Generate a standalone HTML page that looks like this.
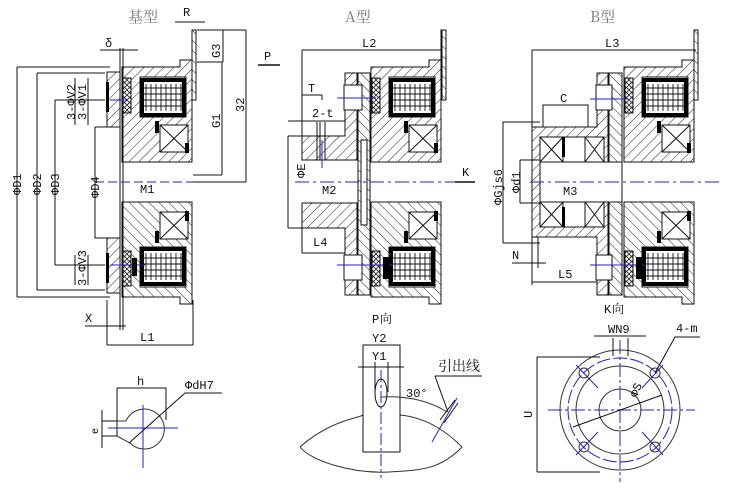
<!DOCTYPE html>
<html><head><meta charset="utf-8"><style>
html,body{margin:0;padding:0;background:#fff}
svg{display:block}
text{font-family:"Liberation Mono","WenQuanYi Zen Hei",monospace;font-size:12px;fill:#111}
.cj{font-family:"Noto Serif CJK SC","WenQuanYi Zen Hei",serif;fill:#777;font-size:15px}
</style></head><body>
<svg width="736" height="488" viewBox="0 0 736 488" xmlns="http://www.w3.org/2000/svg">
<defs>
<pattern id="h" patternUnits="userSpaceOnUse" width="7" height="7" patternTransform="rotate(45)">
<rect width="7" height="7" fill="#fff"/><line x1="0" y1="0" x2="0" y2="7" stroke="#222" stroke-width="1"/></pattern>
<pattern id="h2" patternUnits="userSpaceOnUse" width="7" height="7" patternTransform="rotate(-45)">
<rect width="7" height="7" fill="#fff"/><line x1="0" y1="0" x2="0" y2="7" stroke="#222" stroke-width="1"/></pattern>
<pattern id="x" patternUnits="userSpaceOnUse" width="5" height="5">
<rect width="5" height="5" fill="#fff"/><path d="M0 0L5 5M5 0L0 5" stroke="#222" stroke-width="0.8"/></pattern>
<g id="half">
 <!-- body top half, origin at body left face, y absolute -->
 <path d="M0 67 H58 V60 H70 V162 H0 Z" fill="url(#h)" stroke="#111"/>
 <rect x="18" y="77" width="46" height="40" fill="#fff" stroke="#111"/>
 <rect x="20" y="80" width="42" height="35" fill="#fff" stroke="#000" stroke-width="4"/>
 <path d="M24 84V111M29 84V111M34 84V111M39 84V111M44 84V111M49 84V111M54 84V111M59 84V111M22 88H60M22 94H60M22 100H60M22 106H60" stroke="#111" stroke-width="0.9"/>
 <rect x="38" y="125" width="28" height="27" fill="#fff" stroke="#111"/>
 <path d="M38 125L66 152M66 125L38 152" stroke="#111"/>
 <rect x="33" y="121" width="4" height="12" fill="#000"/>
 <rect x="63" y="143" width="4" height="10" fill="#000"/>
 <rect x="1" y="78" width="8" height="35" fill="url(#x)" stroke="#111"/>
</g>
<g id="body">
 <use href="#half"/>
 <use href="#half" transform="translate(0,364) scale(1,-1)"/>
 <line x1="0" y1="162" x2="70" y2="162" stroke="#111"/>
 <line x1="0" y1="202" x2="70" y2="202" stroke="#111"/>
 <rect x="70" y="30" width="4" height="70" fill="url(#h2)" stroke="#111"/>
</g>
</defs>

<!-- ===== BASE VIEW ===== -->
<text class="cj" x="128" y="22">基型</text>
<text x="183" y="16">R</text>
<line x1="175" y1="22" x2="205" y2="22" stroke="#111"/>
<use href="#body" x="122"/>
<rect x="107" y="72" width="13" height="55" fill="url(#h)" stroke="#111"/>
<rect x="107" y="238" width="13" height="55" fill="url(#h)" stroke="#111"/>
<path d="M120 48V330M123 48V330" stroke="#111"/>
<rect x="106" y="82" width="3" height="30" fill="#000"/>
<rect x="106" y="253" width="3" height="30" fill="#000"/>
<text x="105" y="47">δ</text>
<line x1="100" y1="50" x2="138" y2="50" stroke="#111"/>
<line x1="110" y1="100" x2="128" y2="100" stroke="#22c"/>
<line x1="110" y1="265" x2="145" y2="265" stroke="#22c"/>
<rect x="132" y="258" width="5" height="18" fill="#000"/>
<line x1="95" y1="182" x2="195" y2="182" stroke="#22c" stroke-dasharray="9,4"/>
<text x="140" y="193">M1</text>
<!-- left dims -->
<path d="M17 67V297M17 67H110M17 297H110" stroke="#111" fill="none"/>
<path d="M37 73V290M37 73H105M37 290H105" stroke="#111" fill="none"/>
<path d="M55 100V265M55 100H105M55 265H105" stroke="#111" fill="none"/>
<path d="M95 127V238M95 127H107M95 238H107" stroke="#111" fill="none"/>
<path d="M75 78V125M88 78V125M75 255V285M88 255V285" stroke="#111"/>
<g transform="rotate(-90)">
<text x="-195" y="21">ΦD1</text><text x="-195" y="41">ΦD2</text><text x="-195" y="59">ΦD3</text>
<text x="-198" y="99">ΦD4</text>
<text x="-120" y="75">3-ΦV2</text><text x="-120" y="86">3-ΦV1</text>
<text x="-286" y="86">3-ΦV3</text>
<text x="-58" y="220">G3</text><text x="-128" y="220">G1</text><text x="-112" y="244">32</text>
</g>
<path d="M197 30H246M197 62H223M223 30V62M222 62V175M246 30V182M193 175H222M193 182H246" stroke="#111" fill="none"/>
<text x="85" y="322">X</text>
<line x1="85" y1="326" x2="126" y2="326" stroke="#111"/>
<path d="M107 300V345M193 300V345M107 345H193" stroke="#111" fill="none"/>
<text x="140" y="341">L1</text>
<text x="264" y="60">P</text>
<line x1="258" y1="65" x2="280" y2="65" stroke="#111" stroke-width="1.5"/>

<!-- ===== A VIEW ===== -->
<text class="cj" x="345" y="22">A型</text>
<use href="#body" x="371"/>
<path d="M302 136H345V120H357V73H345 M302 136V160H357" fill="none" stroke="none"/>
<path d="M302 136H345V73H357V160H302Z" fill="url(#h)" stroke="#111"/>
<path d="M302 203H357V295H345V228H302Z" fill="url(#h)" stroke="#111"/>
<rect x="358" y="73" width="12" height="222" fill="url(#h2)" stroke="#111"/>
<rect x="361" y="140" width="6" height="85" fill="#fff" stroke="#111"/>
<rect x="344" y="85" width="18" height="25" fill="#fff" stroke="#111"/>
<rect x="344" y="255" width="18" height="25" fill="#fff" stroke="#111"/>
<line x1="337" y1="98" x2="376" y2="98" stroke="#22c"/>
<line x1="337" y1="265" x2="393" y2="265" stroke="#22c"/>
<rect x="383" y="257" width="6" height="22" fill="#000"/>
<line x1="295" y1="182" x2="455" y2="182" stroke="#22c" stroke-dasharray="14,4,3,4"/>
<text x="322" y="194">M2</text>
<path d="M302 50V140M302 50H444M444 30V100" stroke="#111" fill="none"/>
<rect x="442" y="30" width="4" height="70" fill="url(#h2)" stroke="#111"/>
<text x="362" y="47">L2</text>
<text x="308" y="92">T</text><path d="M302 95H322V100" stroke="#111" fill="none"/>
<text x="312" y="117">2-t</text>
<path d="M317 122V160M320 122V160M325 122V160" stroke="#111"/>
<line x1="322" y1="140" x2="322" y2="168" stroke="#22c"/>
<path d="M288 121H345M288 136V228M288 136H302M288 228H302" stroke="#111" fill="none"/>
<text x="296" y="195" transform="rotate(-90 292 182)">ΦE</text>
<path d="M302 228V253H345" stroke="#111" fill="none"/>
<text x="313" y="246">L4</text>
<text x="462" y="176">K</text>
<line x1="455" y1="182" x2="475" y2="182" stroke="#111" stroke-width="1.5"/>

<!-- ===== B VIEW ===== -->
<text class="cj" x="590" y="22">B型</text>
<use href="#body" x="624"/>
<rect x="694" y="30" width="4" height="70" fill="url(#h2)" stroke="#111"/>
<path d="M532 127H597V73H608V295H597V237H532Z" fill="url(#h)" stroke="#111"/>
<rect x="609" y="73" width="13" height="222" fill="url(#h2)" stroke="#111"/>
<rect x="540" y="137" width="64" height="90" fill="#fff" stroke="#111"/>
<rect x="540" y="137" width="23" height="25" fill="#fff" stroke="#111"/><path d="M540 137L563 162M563 137L540 162" stroke="#111"/>
<rect x="585" y="137" width="19" height="25" fill="#fff" stroke="#111"/><path d="M585 137L604 162M604 137L585 162" stroke="#111"/>
<rect x="540" y="202" width="23" height="25" fill="#fff" stroke="#111"/><path d="M540 202L563 227M563 202L540 227" stroke="#111"/>
<rect x="585" y="202" width="19" height="25" fill="#fff" stroke="#111"/><path d="M585 202L604 227M604 202L585 227" stroke="#111"/>
<rect x="540" y="162" width="82" height="40" fill="#fff" stroke="#111"/>
<rect x="562" y="137" width="3" height="20" fill="#000"/><rect x="562" y="207" width="3" height="20" fill="#000"/>
<rect x="596" y="85" width="16" height="25" fill="#fff" stroke="#111"/>
<rect x="596" y="255" width="16" height="25" fill="#fff" stroke="#111"/>
<line x1="590" y1="99" x2="628" y2="99" stroke="#22c"/>
<line x1="590" y1="265" x2="645" y2="265" stroke="#22c"/>
<rect x="636" y="257" width="6" height="22" fill="#000"/>
<line x1="530" y1="182" x2="720" y2="182" stroke="#22c" stroke-dasharray="14,4,3,4"/>
<text x="563" y="195">M3</text>
<path d="M532 50V285M532 50H696" stroke="#111" fill="none"/>
<text x="605" y="47">L3</text>
<path d="M543 127V105H588V127" stroke="#111" fill="none"/><text x="560" y="102">C</text>
<path d="M503 122V243M503 122H540M503 243H540M520 160V203M520 160H540M520 203H540" stroke="#111" fill="none"/>
<text transform="rotate(-90)" x="-205" y="502">ΦGjs6</text>
<text transform="rotate(-90)" x="-193" y="520">Φd1</text>
<text x="512" y="259">N</text><line x1="512" y1="263" x2="546" y2="263" stroke="#111"/>
<path d="M538 237V268M532 282H597" stroke="#111" fill="none"/>
<text x="558" y="278">L5</text>

<!-- ===== h detail ===== -->
<path d="M117 388H166M117 388V436M166 388V420" stroke="#111" fill="none"/>
<text x="137" y="385">h</text>
<path d="M126 421 A20 20 0 1 1 130 443 L117 436 M126 421 H117" stroke="#333" fill="none"/>
<path d="M108 428H178M143 405V468" stroke="#22c"/>
<path d="M102 410V448M102 421H117M102 436H117" stroke="#111"/>
<text transform="rotate(-90)" x="-434" y="98" style="font-size:10px">e</text>
<path d="M129 443L185 393H222" stroke="#111" fill="none"/>
<text x="185" y="389">ΦdH7</text>

<!-- ===== P view ===== -->
<text x="372" y="323">P</text><text class="cj" x="380" y="323" style="font-size:12px;fill:#111">向</text>
<path d="M300 447 C330 420 360 418 363 415 M400 415 C430 418 450 435 462 447 C440 470 420 470 390 472 C350 474 310 460 300 447" stroke="#333" fill="none"/>
<rect x="363" y="345" width="37" height="107" fill="#fff" stroke="#111"/>
<path d="M358 367H404M375 362V392M388 362V392" stroke="#111"/>
<text x="372" y="342">Y2</text><text x="372" y="360">Y1</text>
<ellipse cx="381" cy="393" rx="6" ry="14" fill="#fff" stroke="#111"/>
<line x1="381" y1="370" x2="381" y2="478" stroke="#22c" stroke-dasharray="12,3,3,3"/>
<path d="M381 397 Q420 395 447 412" stroke="#333" fill="none"/>
<text x="406" y="397">30°</text>
<path d="M435 376H482M435 376L448 412" stroke="#111" fill="none"/>
<text class="cj" x="438" y="371" style="font-size:14px;fill:#111">引出线</text>
<path d="M440 420L455 400M444 423L458 403" stroke="#111"/>
<line x1="432" y1="442" x2="457" y2="398" stroke="#22c"/>

<!-- ===== K view ===== -->
<text x="604" y="313">K</text><text class="cj" x="612" y="313" style="font-size:12px;fill:#111">向</text>
<circle cx="620" cy="410" r="60" fill="none" stroke="#333"/>
<circle cx="620" cy="410" r="52" fill="none" stroke="#22c" stroke-dasharray="14,3"/>
<circle cx="620" cy="410" r="44" fill="none" stroke="#333"/>
<circle cx="620" cy="410" r="21" fill="none" stroke="#333"/>
<path d="M548 410H695M620 340V482" stroke="#22c" stroke-dasharray="14,3,3,3"/>
<path d="M613 356V338M628 356V338M594 336H646" stroke="#111"/>
<text x="608" y="333">WN9</text>
<g stroke="#333" fill="none">
<circle cx="584" cy="373" r="5"/><circle cx="655" cy="373" r="5"/><circle cx="584" cy="447" r="5"/><circle cx="655" cy="447" r="5"/>
</g>
<path d="M576 365L598 388M663 365L642 388M576 455L598 432M663 455L642 432" stroke="#22c"/>
<path d="M573 427L662 395M655 373L675 337H700" stroke="#111" fill="none"/>
<text x="676" y="332">4-m</text>
<text transform="rotate(-68 635 392)" x="630" y="396">ΦS</text>
<path d="M537 357V472M537 357H600M537 472H600" stroke="#111" fill="none"/>
<text transform="rotate(-90)" x="-418" y="532">U</text>
</svg>
</body></html>
